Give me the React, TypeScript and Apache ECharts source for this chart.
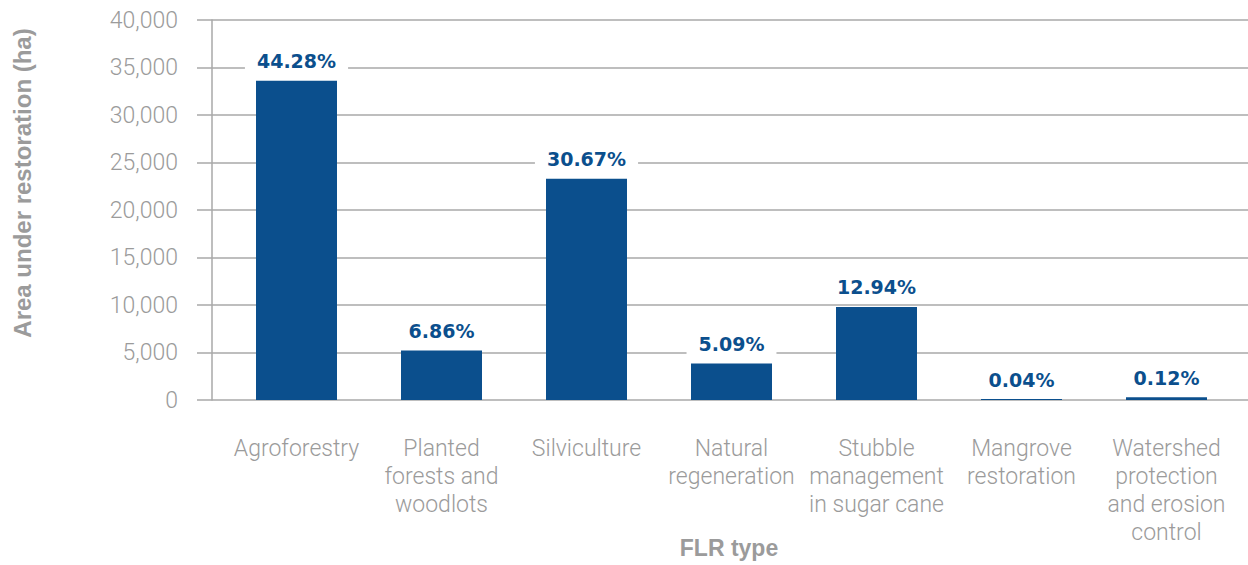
import React, { useEffect, useRef } from "react";
import * as echarts from "echarts";

const categories = [
  "Agroforestry",
  "Planted\nforests and\nwoodlots",
  "Silviculture",
  "Natural\nregeneration",
  "Stubble\nmanagement\nin sugar cane",
  "Mangrove\nrestoration",
  "Watershed\nprotection\nand erosion\ncontrol",
];
const areaHa = [33600, 5200, 23300, 3850, 9800, 100, 300];
const shareLabels = ["44.28%", "6.86%", "30.67%", "5.09%", "12.94%", "0.04%", "0.12%"];
const yTicks = { min: 0, max: 40000, interval: 5000 };

const BLUE = "#0b4f8d";
const GRAY_TEXT = "#9b9b9b";
const GRID_LINE = "#a8a8a8";

export default function App() {
  const ref = useRef<HTMLDivElement>(null);
  useEffect(() => {
    if (!ref.current) return;
    const chart = echarts.init(ref.current, undefined, { renderer: "svg" });
    chart.setOption({
      animation: false,
      backgroundColor: "#ffffff",
      grid: [
        { left: 224, right: 9, top: 20, bottom: 165 },
        { left: 197, right: 0, top: 20, bottom: 165 },
      ],
      xAxis: [
        {
          type: "category",
          gridIndex: 0,
          data: categories,
          axisLine: { show: false },
          axisTick: { show: false },
          axisLabel: {
            interval: 0,
            margin: 34,
            color: GRAY_TEXT,
            fontFamily: "Roboto, 'Liberation Sans', Arial, sans-serif",
            fontWeight: 300,
            fontSize: 23,
            lineHeight: 28,
            align: "center",
          },
        },
        { type: "category", gridIndex: 1, data: categories, show: false },
      ],
      yAxis: [
        {
          type: "value",
          gridIndex: 0,
          min: yTicks.min,
          max: yTicks.max,
          interval: yTicks.interval,
          offset: 12,
          axisLine: { show: true, lineStyle: { color: GRID_LINE, width: 1.5 } },
          axisTick: { show: false },
          splitLine: { show: false },
          axisLabel: {
            margin: 34,
            color: GRAY_TEXT,
            fontFamily: "Roboto, 'Liberation Sans', Arial, sans-serif",
            fontWeight: 300,
            fontSize: 23,
            letterSpacing: 1,
            formatter: (v: number) => v.toLocaleString("en-US"),
          },
        },
        {
          type: "value",
          gridIndex: 1,
          min: yTicks.min,
          max: yTicks.max,
          interval: yTicks.interval,
          axisLine: { show: false },
          axisTick: { show: false },
          axisLabel: { show: false },
          splitLine: { show: true, lineStyle: { color: GRID_LINE, width: 1.5 } },
        },
      ],
      series: [
        {
          type: "bar",
          xAxisIndex: 0,
          yAxisIndex: 0,
          data: areaHa,
          barWidth: 81,
          itemStyle: { color: BLUE },
          label: {
            show: true,
            position: "top",
            distance: 8,
            formatter: (p: any) => shareLabels[p.dataIndex],
            color: BLUE,
            fontFamily: "'DejaVu Sans', sans-serif",
            fontWeight: "bold",
            fontSize: 19,
            letterSpacing: 1,
            backgroundColor: "#ffffff",
            padding: [2, 12],
          },
        },
      ],
      graphic: [
        {
          type: "text",
          x: 22,
          y: 183,
          rotation: Math.PI / 2,
          style: {
            text: "Area under restoration (ha)",
            fill: GRAY_TEXT,
            font: "bold 24px 'Liberation Sans', Arial, sans-serif",
            letterSpacing: 2.2,
            textAlign: "center",
            textVerticalAlign: "middle",
          },
        },
        {
          type: "text",
          x: 729,
          y: 548,
          style: {
            text: "FLR type",
            fill: GRAY_TEXT,
            font: "bold 23px 'Liberation Sans', Arial, sans-serif",
            textAlign: "center",
            textVerticalAlign: "middle",
          },
        },
      ],
    });
    return () => chart.dispose();
  }, []);
  return (
    <div
      ref={ref}
      style={{ position: "fixed", left: 0, top: 0, width: 1248, height: 565 }}
    />
  );
}
